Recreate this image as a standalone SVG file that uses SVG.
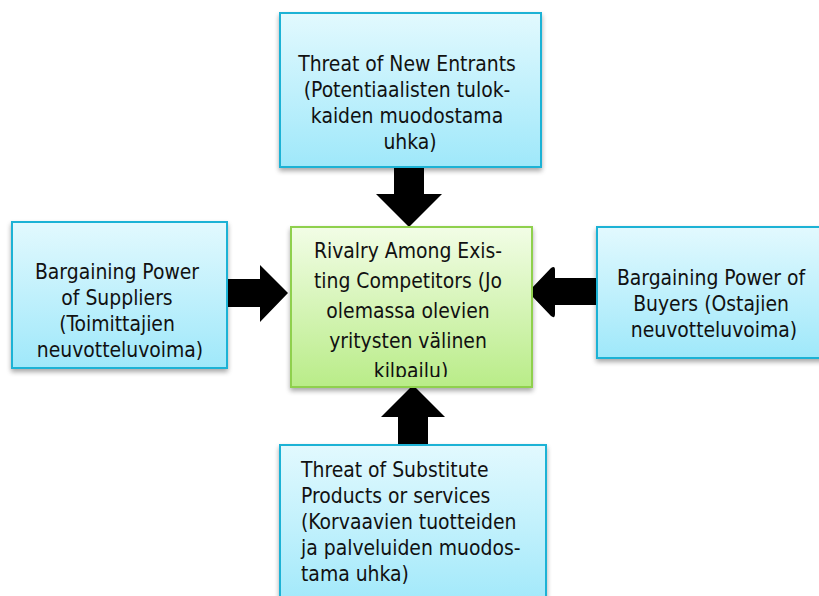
<svg xmlns="http://www.w3.org/2000/svg" width="819" height="596" viewBox="0 0 819 596">
  <defs>
    <linearGradient id="gradBlue" x1="0" y1="0" x2="0" y2="1">
      <stop offset="0" stop-color="#e2f9fe"/>
      <stop offset="1" stop-color="#9fe8fa"/>
    </linearGradient>
    <linearGradient id="gradBlueTall" gradientUnits="userSpaceOnUse" x1="0" y1="445" x2="0" y2="610">
      <stop offset="0" stop-color="#e2f9fe"/>
      <stop offset="1" stop-color="#9fe8fa"/>
    </linearGradient>
    <linearGradient id="gradGreen" x1="0" y1="0" x2="0" y2="1">
      <stop offset="0" stop-color="#f2fde6"/>
      <stop offset="1" stop-color="#b9ec88"/>
    </linearGradient>
    <filter id="shadow" x="-10%" y="-10%" width="120%" height="125%">
      <feGaussianBlur in="SourceAlpha" stdDeviation="2.5"/>
      <feOffset dx="0" dy="3" result="b"/>
      <feComponentTransfer><feFuncA type="linear" slope="0.35"/></feComponentTransfer>
      <feMerge><feMergeNode/><feMergeNode in="SourceGraphic"/></feMerge>
    </filter>
    <clipPath id="centerClip">
      <rect x="291" y="227" width="241" height="150"/>
    </clipPath>
    <style>
      .blue { fill: url(#gradBlue); stroke: #1ab2d5; stroke-width: 2; filter: url(#shadow); }
      .green { fill: url(#gradGreen); stroke: #8fd04e; stroke-width: 2; filter: url(#shadow); }
      .label { font-family: "DejaVu Sans Condensed", "DejaVu Sans", sans-serif; font-stretch: condensed; font-size: 20.9px; fill: #111; }
      .mid { text-anchor: middle; }
      .arrow { fill: #000; }
    </style>
  </defs>

  <rect width="819" height="596" fill="#fff"/>

  <!-- connectors: block arrows pointing at the central box -->
  <g id="connectors">
    <polygon class="arrow" points="394,165 424,165 424,194 442,194 409,227 376,194 394,194"/>
    <polygon class="arrow" points="223,279 260,279 260,265 288,293 260,322 260,307 223,307"/>
    <path class="arrow" d="M600,278 L555,278 L555,270 Q555,265 551,268 L530,290 Q528,292 530,294 L551,316 Q555,319 555,314 L555,305 L600,305 Z"/>
    <polygon class="arrow" points="398,447 428,447 428,417 445,417 413,385 381,417 398,417"/>
  </g>

  <g id="new-entrants">
    <rect class="blue" x="280" y="13" width="261" height="154"/>
    <text class="label mid">
      <tspan x="410" y="71">Threat of New Entrants</tspan>
      <tspan x="410" y="97">(Potentiaalisten tulok-</tspan>
      <tspan x="410" y="123">kaiden muodostama</tspan>
      <tspan x="410" y="149">uhka)</tspan>
    </text>
  </g>

  <g id="suppliers">
    <rect class="blue" x="12" y="222" width="215" height="146"/>
    <text class="label mid">
      <tspan x="120" y="279">Bargaining Power</tspan>
      <tspan x="120" y="305">of Suppliers</tspan>
      <tspan x="120" y="331">(Toimittajien</tspan>
      <tspan x="120" y="357">neuvotteluvoima)</tspan>
    </text>
  </g>

  <g id="rivalry">
    <rect class="green" x="291" y="227" width="241" height="160"/>
    <text class="label mid" clip-path="url(#centerClip)">
      <tspan x="411" y="258">Rivalry Among Exis-</tspan>
      <tspan x="411" y="288">ting Competitors (Jo</tspan>
      <tspan x="411" y="318">olemassa olevien</tspan>
      <tspan x="411" y="348">yritysten välinen</tspan>
      <tspan x="411" y="378">kilpailu)</tspan>
    </text>
  </g>

  <g id="buyers">
    <rect class="blue" x="597" y="227" width="234" height="131"/>
    <text class="label mid">
      <tspan x="714" y="285">Bargaining Power of</tspan>
      <tspan x="714" y="311">Buyers (Ostajien</tspan>
      <tspan x="714" y="337">neuvotteluvoima)</tspan>
    </text>
  </g>

  <g id="substitutes">
    <rect class="blue" x="280" y="445" width="266" height="165" style="fill:url(#gradBlueTall)"/>
    <text class="label">
      <tspan x="301" y="477">Threat of Substitute</tspan>
      <tspan x="301" y="503">Products or services</tspan>
      <tspan x="301" y="529">(Korvaavien tuotteiden</tspan>
      <tspan x="301" y="555">ja palveluiden muodos-</tspan>
      <tspan x="301" y="581">tama uhka)</tspan>
    </text>
  </g>
</svg>
